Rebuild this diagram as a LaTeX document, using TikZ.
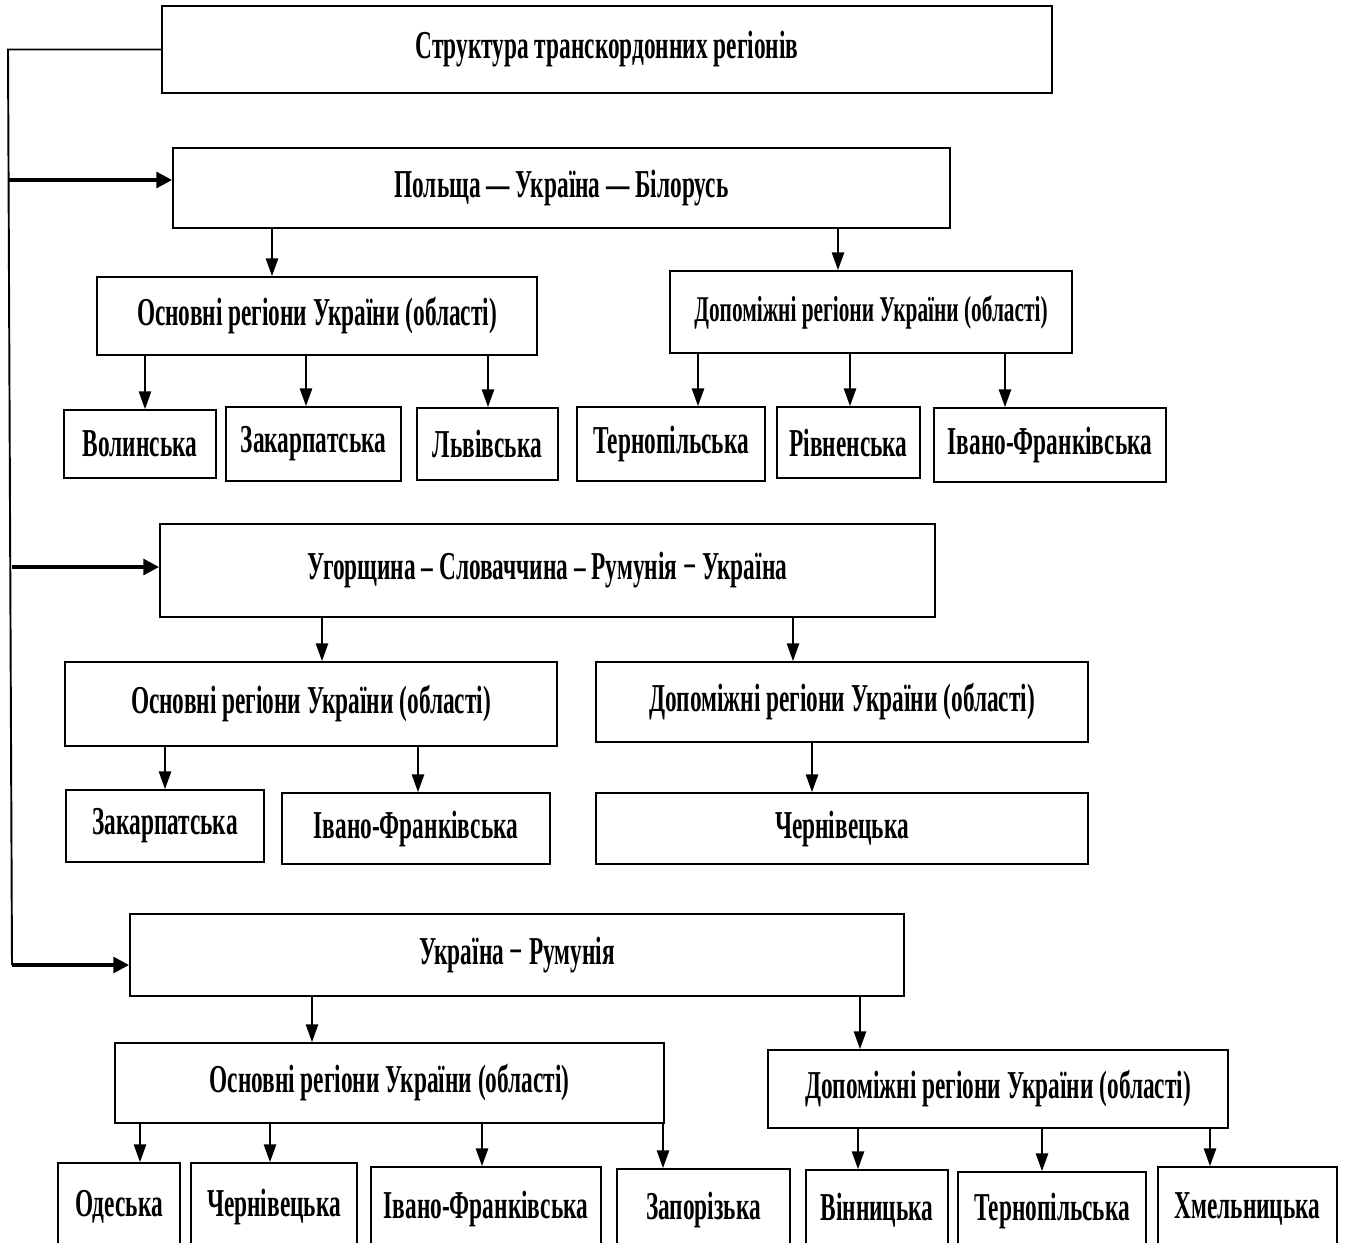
\documentclass[tikz,border=0pt]{standalone}
\usepackage{fontspec}
\setmainfont{Liberation Serif}[FakeStretch=0.59]
\usetikzlibrary{arrows.meta}

\begin{document}
\begin{tikzpicture}[
  x=0.02cm, y=-0.02cm,
  font=\fontsize{22.5}{24}\selectfont\bfseries,
  box/.style={draw, line width=1.1pt, align=center, inner sep=0pt},
  arr/.style={-{Triangle[length=10pt,width=7pt]}, line width=0.8pt},
  feed/.style={-{Triangle[length=9pt,width=9pt]}, line width=2pt}
]
\useasboundingbox (0,0) rectangle (1346,1242);
\clip (0,0) rectangle (1346,1242);
\node[box, minimum width=17.8cm, minimum height=1.74cm] (top) at (607,49.5) {Структура транскордонних регіонів};
% Польща -- Україна -- Білорусь
\node[box, minimum width=15.54cm, minimum height=1.6cm] (pub) at (561.5,188) {Польща — Україна — Білорусь};
\node[box, minimum width=8.8cm, minimum height=1.56cm] (osn1) at (317,316) {Основні регіони України (області)};
\node[box, minimum width=8.04cm, minimum height=1.64cm, font=\fontsize{20.6}{22}\selectfont\bfseries] (dop1) at (871,312) {Допоміжні регіони України (області)};
\node[box, minimum width=3.04cm, minimum height=1.36cm] (vol) at (140,444) {Волинська};
\node[box, minimum width=3.5cm, minimum height=1.48cm] (zak1) at (313.5,444) {Закарпатська};
\node[box, minimum width=2.82cm, minimum height=1.44cm] (lvi) at (487.5,444) {Львівська};
\node[box, minimum width=3.76cm, minimum height=1.48cm] (ter1) at (671,444) {Тернопільська};
\node[box, minimum width=2.86cm, minimum height=1.42cm] (riv) at (848.5,442.5) {Рівненська};
\node[box, minimum width=4.64cm, minimum height=1.48cm] (ivf1) at (1050,445) {Івано-Франківська};
% Угорщина -- Словаччина -- Румунія -- Україна
\node[box, minimum width=15.5cm, minimum height=1.86cm] (usr) at (547.5,570.5) {Угорщина – Словаччина – Румунія − Україна};
\node[box, minimum width=9.84cm, minimum height=1.68cm] (osn2) at (311,704) {Основні регіони України (області)};
\node[box, minimum width=9.84cm, minimum height=1.6cm] (dop2) at (842,702) {Допоміжні регіони України (області)};
\node[box, minimum width=3.96cm, minimum height=1.44cm] (zak2) at (165,826) {Закарпатська};
\node[box, minimum width=5.36cm, minimum height=1.42cm] (ivf2) at (416,828.5) {Івано-Франківська};
\node[box, minimum width=9.84cm, minimum height=1.42cm] (che2) at (842,828.5) {Чернівецька};
% Україна -- Румунія
\node[box, minimum width=15.48cm, minimum height=1.64cm] (ur) at (517,955) {Україна − Румунія};
\node[box, minimum width=10.98cm, minimum height=1.6cm] (osn3) at (389.5,1083) {Основні регіони України (області)};
\node[box, minimum width=9.2cm, minimum height=1.56cm] (dop3) at (998,1089) {Допоміжні регіони України (області)};
\node[box, minimum width=2.44cm, minimum height=1.74cm] (ode) at (119,1206.5) {Одеська};
\node[box, minimum width=3.32cm, minimum height=1.74cm] (che3) at (274,1206.5) {Чернівецька};
\node[box, minimum width=4.6cm, minimum height=1.66cm] (ivf3) at (486,1208.5) {Івано-Франківська};
\node[box, minimum width=3.46cm, minimum height=1.62cm] (zap) at (703.5,1209.5) {Запорізька};
\node[box, minimum width=2.84cm, minimum height=1.6cm] (vin) at (877,1210) {Вінницька};
\node[box, minimum width=3.76cm, minimum height=1.56cm] (ter3) at (1052,1211) {Тернопільська};
\node[box, minimum width=3.58cm, minimum height=1.66cm] (khm) at (1247.5,1208.5) {Хмельницька};
% left feed line
\coordinate (ltop) at (8,49.5);
\coordinate (lbot) at (12,965);
\draw[line width=1.1pt] (top.west) -- (ltop) -- (lbot);
\draw[feed] (8,180) -- (pub.west |- 0,180);
\draw[feed] (12,567) -- (usr.west |- 0,567);
\draw[feed] (12,965) -- (ur.west |- 0,965);
% arrows
\draw[arr] (pub.south -| 272,0) -- (osn1.north -| 272,0);
\draw[arr] (pub.south -| 838,0) -- (dop1.north -| 838,0);
\draw[arr] (osn1.south -| 145,0) -- (vol.north -| 145,0);
\draw[arr] (osn1.south -| 306,0) -- (zak1.north -| 306,0);
\draw[arr] (osn1.south -| 488,0) -- (lvi.north -| 488,0);
\draw[arr] (dop1.south -| 698,0) -- (ter1.north -| 698,0);
\draw[arr] (dop1.south -| 850,0) -- (riv.north -| 850,0);
\draw[arr] (dop1.south -| 1005,0) -- (ivf1.north -| 1005,0);
\draw[arr] (usr.south -| 322,0) -- (osn2.north -| 322,0);
\draw[arr] (usr.south -| 793,0) -- (dop2.north -| 793,0);
\draw[arr] (osn2.south -| 165,0) -- (zak2.north -| 165,0);
\draw[arr] (osn2.south -| 418,0) -- (ivf2.north -| 418,0);
\draw[arr] (dop2.south -| 812,0) -- (che2.north -| 812,0);
\draw[arr] (ur.south -| 312,0) -- (osn3.north -| 312,0);
\draw[arr] (ur.south -| 860,0) -- (dop3.north -| 860,0);
\draw[arr] (osn3.south -| 140,0) -- (ode.north -| 140,0);
\draw[arr] (osn3.south -| 270,0) -- (che3.north -| 270,0);
\draw[arr] (osn3.south -| 482,0) -- (ivf3.north -| 482,0);
\draw[arr] (osn3.south -| 663,0) -- (zap.north -| 663,0);
\draw[arr] (dop3.south -| 858,0) -- (vin.north -| 858,0);
\draw[arr] (dop3.south -| 1042,0) -- (ter3.north -| 1042,0);
\draw[arr] (dop3.south -| 1210,0) -- (khm.north -| 1210,0);
\end{tikzpicture}
\end{document}
